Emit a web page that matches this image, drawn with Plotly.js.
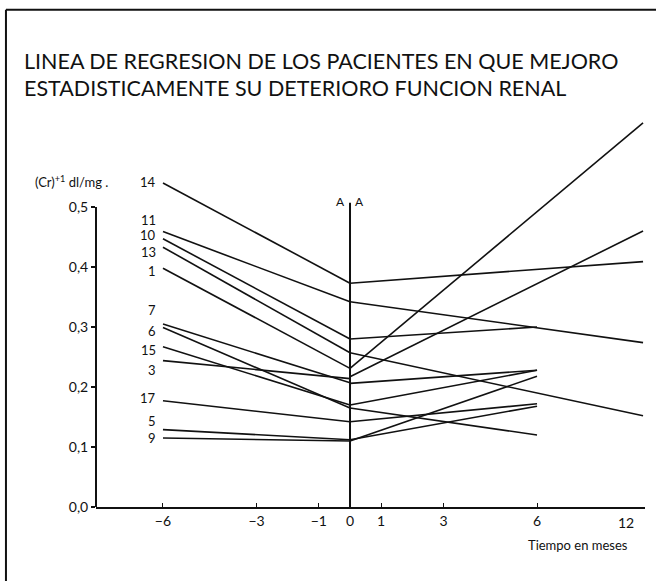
<!DOCTYPE html>
<html><head><meta charset="utf-8">
<script src="https://cdn.plot.ly/plotly-3.0.1.min.js"></script>
<style>html,body{margin:0;padding:0;background:#fff}</style>
</head><body><div id="chart" style="width:656px;height:581px"></div>
<script>
// ---- DATA ----
const patients = ['14','11','10','13','1','7','6','15','3','17','5','9'];
const beforeMonths = [-6, 0];
// (Cr)^-1 at month -6 and at month 0 (regression before A)
const beforeStart = [0.540,0.459,0.447,0.433,0.398,0.305,0.299,0.267,0.244,0.177,0.129,0.115];
const beforeEnd   = [0.373,0.342,0.280,0.257,0.231,0.207,0.165,0.170,0.214,0.142,0.112,0.110];
// regression after A: value at month 0 and at the last month
const afterStart    = [0.373,0.342,0.280,0.257,0.231,0.206,0.165,0.170,0.217,0.142,0.112,0.110];
const afterEnd      = [0.409,0.274,0.300,0.152,0.640,0.228,0.120,0.228,0.460,0.172,0.168,0.218];
const afterEndMonth = [12,12,6,12,12,6,6,6,12,6,6,6];
const xTickVals = [-6,-3,-1,0,1,3,6];
const xTickText = ['\u22126','\u22123','\u22121','0','1','3','6'];
const yTickVals = [0,0.1,0.2,0.3,0.4,0.5];
const yTickText = ['0,0','0,1','0,2','0,3','0,4','0,5'];
const titleLines = ['LINEA DE REGRESION DE LOS PACIENTES EN QUE MEJORO',
                    'ESTADISTICAMENTE SU DETERIORO FUNCION RENAL'];

// ---- LAYOUT HELPERS (label placement) ----
const labelY = [0.541,0.479,0.454,0.425,0.394,0.328,0.293,0.261,0.229,0.182,0.144,0.115];

const FONT = 'Lato, "Open Sans", sans-serif';
const lineStyle = {color:'#111', width:1.6};
const traces = [];
patients.forEach((p,i)=>{
  traces.push({x:beforeMonths, y:[beforeStart[i], beforeEnd[i]], xaxis:'x', yaxis:'y',
    mode:'lines', line:lineStyle, showlegend:false, hoverinfo:'skip', name:p});
  traces.push({x:[0, afterEndMonth[i]], y:[afterStart[i], afterEnd[i]],
    xaxis: afterEndMonth[i] === 12 ? 'x2' : 'x', yaxis:'y',
    mode:'lines', line:lineStyle, showlegend:false, hoverinfo:'skip', name:p});
});

const annotations = patients.map((p,i)=>({
  text:p, x:-6, y:labelY[i], xref:'x', yref:'y', xanchor:'right', yanchor:'middle',
  xshift:-5, showarrow:false, font:{family:FONT, size:13, color:'#111'}
}));
// title lines (pixel rows 61 and 88 of the 581 px page)
annotations.push({text:titleLines[0], xref:'paper', yref:'paper', x:(22-96)/549, y:(507-61)/389,
  xanchor:'left', yanchor:'middle', showarrow:false, font:{family:FONT, size:21.5, color:'#111'}});
annotations.push({text:titleLines[1], xref:'paper', yref:'paper', x:(22-96)/549, y:(507-88)/389,
  xanchor:'left', yanchor:'middle', showarrow:false, font:{family:FONT, size:21.5, color:'#111'}});
annotations.push({text:'(Cr)<sup>+1</sup> dl/mg .', xref:'paper', yref:'y', x:-0.115, y:0.542,
  xanchor:'left', yanchor:'middle', showarrow:false, font:{family:FONT, size:13, color:'#111'}});
annotations.push({text:'A', xref:'x', yref:'y', x:0, y:0.507, xanchor:'right', yanchor:'bottom',
  xshift:-3, yshift:-8, showarrow:false, font:{family:FONT, size:12, color:'#111'}});
annotations.push({text:'A', xref:'x', yref:'y', x:0, y:0.507, xanchor:'left', yanchor:'bottom',
  xshift:3, yshift:-8, showarrow:false, font:{family:FONT, size:12, color:'#111'}});
annotations.push({text:'Tiempo en meses', xref:'paper', yref:'paper', x:0.878, y:-0.098,
  xanchor:'center', yanchor:'middle', showarrow:false, font:{family:FONT, size:13, color:'#111'}});

const shapes = [
  // y axis line 0 .. 0.5
  {type:'line', xref:'paper', yref:'y', x0:0, x1:0, y0:0, y1:0.5, line:{color:'#111', width:2}},
  // vertical line at month 0 (A)
  {type:'line', xref:'x', yref:'y', x0:0, x1:0, y0:0, y1:0.507, line:{color:'#111', width:2}},
  // frame
  {type:'line', xref:'paper', yref:'paper', x0:-0.164, x1:1.03, y0:1.278, y1:1.278, line:{color:'#111', width:2}},
  {type:'line', xref:'paper', yref:'paper', x0:-0.164, x1:-0.164, y0:1.278, y1:-0.2, line:{color:'#111', width:2}}
];

const layout = {
  width:656, height:581,
  margin:{l:96, r:11, t:118, b:74},
  paper_bgcolor:'#fff', plot_bgcolor:'#fff',
  font:{family:FONT, color:'#111'},
  xaxis:{range:[-8.149, 9.464], tickvals:xTickVals, ticktext:xTickText, showgrid:false, zeroline:false,
    showline:true, linecolor:'#111', linewidth:2, ticks:'inside', ticklen:4, tickcolor:'#111',
    tickfont:{family:FONT, size:14, color:'#111'}, fixedrange:true},
  xaxis2:{overlaying:'x', anchor:'y', side:'bottom', range:[-10.40, 12.08], tickvals:[12], ticktext:['12'],
    showgrid:false, zeroline:false, showline:false, ticks:'', ticklabelshift:-17, ticklabelstandoff:6,
    tickfont:{family:FONT, size:14, color:'#111'}, fixedrange:true},
  yaxis:{range:[0, 0.6483], tickvals:yTickVals, ticktext:yTickText, showgrid:false, zeroline:false,
    showline:false, ticks:'outside', ticklen:4, tickcolor:'#111', tickwidth:1.5,
    tickfont:{family:FONT, size:14, color:'#111'}, fixedrange:true},
  annotations:annotations,
  shapes:shapes
};
Plotly.newPlot('chart', traces, layout, {displayModeBar:false, staticPlot:true});
</script></body></html>
